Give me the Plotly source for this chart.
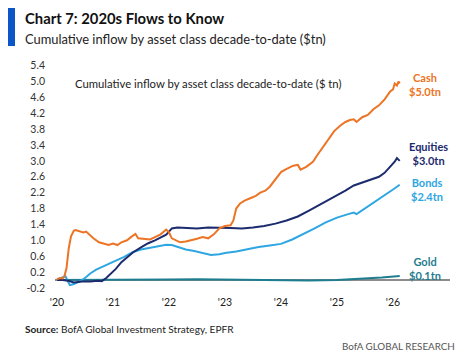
import plotly.graph_objects as go

# ---------------- data ----------------
cash_t = [2020.00, 2020.05, 2020.10, 2020.13, 2020.17, 2020.21, 2020.25, 2020.30, 2020.33, 2020.40,
          2020.47, 2020.52, 2020.58, 2020.65, 2020.75, 2020.85, 2020.92, 2021.00, 2021.08, 2021.15,
          2021.25, 2021.32, 2021.40, 2021.45, 2021.55, 2021.66, 2021.75, 2021.85, 2021.95, 2022.00,
          2022.05, 2022.12, 2022.20, 2022.30, 2022.40, 2022.50, 2022.60, 2022.70, 2022.80, 2022.90,
          2023.00, 2023.10, 2023.15, 2023.20, 2023.27, 2023.35, 2023.45, 2023.55, 2023.63, 2023.72,
          2023.80, 2023.90, 2024.00, 2024.10, 2024.22, 2024.30, 2024.35, 2024.45, 2024.57, 2024.65,
          2024.75, 2024.85, 2024.95, 2025.05, 2025.15, 2025.23, 2025.30, 2025.35, 2025.45, 2025.55,
          2025.65, 2025.75, 2025.85, 2025.95, 2026.00, 2026.03, 2026.07, 2026.10, 2026.12]
cash_v = [0.02, 0.05, 0.04, 0.08, 0.30, 0.80, 1.10, 1.24, 1.26, 1.22,
          1.20, 1.22, 1.14, 1.05, 0.95, 0.92, 0.88, 0.92, 0.88, 0.95,
          1.00, 1.08, 1.16, 1.05, 1.03, 1.02, 1.08, 1.15, 1.27, 1.20,
          1.05, 1.00, 0.95, 0.97, 1.00, 1.04, 1.08, 1.05, 1.15, 1.30,
          1.36, 1.38, 1.50, 1.80, 1.93, 2.00, 2.06, 2.12, 2.20, 2.25,
          2.35, 2.55, 2.72, 2.80, 2.88, 2.90, 2.78, 2.85, 2.98, 3.15,
          3.36, 3.55, 3.75, 3.88, 3.98, 4.03, 4.05, 3.98, 4.10, 4.16,
          4.30, 4.40, 4.55, 4.75, 4.80, 4.95, 4.90, 5.00, 4.95]

eq_t = [2020.00, 2020.10, 2020.20, 2020.30, 2020.45, 2020.60, 2020.72, 2020.80, 2020.88, 2020.95,
        2021.05, 2021.15, 2021.25, 2021.36, 2021.50, 2021.62, 2021.75, 2021.85, 2021.95, 2022.00,
        2022.05, 2022.15, 2022.30, 2022.50, 2022.70, 2022.90, 2023.10, 2023.30, 2023.50, 2023.70,
        2023.90, 2024.10, 2024.30, 2024.50, 2024.70, 2024.85, 2025.00, 2025.15, 2025.30, 2025.45,
        2025.60, 2025.75, 2025.85, 2025.95, 2026.03, 2026.07, 2026.12]
eq_v = [0.00, 0.00, -0.02, -0.06, -0.04, -0.04, -0.02, -0.03, 0.05, 0.15,
        0.28, 0.45, 0.58, 0.70, 0.82, 0.92, 1.00, 1.07, 1.14, 1.22,
        1.30, 1.32, 1.31, 1.30, 1.32, 1.32, 1.31, 1.30, 1.32, 1.36,
        1.42, 1.50, 1.60, 1.75, 1.90, 2.02, 2.12, 2.25, 2.38, 2.46,
        2.52, 2.60, 2.70, 2.85, 2.98, 3.07, 3.00]

bond_t = [2020.00, 2020.08, 2020.15, 2020.20, 2020.23, 2020.30, 2020.40, 2020.50, 2020.60, 2020.70,
          2020.80, 2020.90, 2021.00, 2021.10, 2021.20, 2021.35, 2021.50, 2021.65, 2021.80, 2021.95,
          2022.05, 2022.15, 2022.30, 2022.45, 2022.60, 2022.75, 2022.90, 2023.00, 2023.20, 2023.40,
          2023.60, 2023.80, 2024.00, 2024.20, 2024.40, 2024.60, 2024.80, 2025.00, 2025.20, 2025.30,
          2025.35, 2025.50, 2025.70, 2025.85, 2026.00, 2026.12]
bond_v = [0.00, 0.05, 0.10, -0.05, -0.13, -0.10, -0.04, 0.05, 0.17, 0.26,
          0.33, 0.38, 0.45, 0.52, 0.58, 0.70, 0.77, 0.81, 0.85, 0.89,
          0.88, 0.83, 0.77, 0.73, 0.68, 0.63, 0.65, 0.68, 0.72, 0.78,
          0.83, 0.87, 0.91, 1.02, 1.15, 1.30, 1.45, 1.57, 1.66, 1.70,
          1.66, 1.80, 1.98, 2.12, 2.28, 2.40]

gold_t = [2020.0, 2021.0, 2022.0, 2022.5, 2023.0, 2023.5, 2024.0, 2024.5, 2025.0, 2025.5, 2025.8, 2026.12]
gold_v = [0.00, 0.00, 0.01, 0.02, 0.01, 0.00, -0.01, -0.01, 0.00, 0.03, 0.06, 0.10]

year_ticks = [2020, 2021, 2022, 2023, 2024, 2025, 2026]
year_labels = ["'20", "'21", "'22", "'23", "'24", "'25", "'26"]
y_ticks = [-0.2, 0.2, 0.6, 1.0, 1.4, 1.8, 2.2, 2.6, 3.0, 3.4, 3.8, 4.2, 4.6, 5.0, 5.4]

# ---------------- figure ----------------
FONT = "Lato"
C_CASH = "#EC7424"
C_EQ = "#1C2B6E"
C_BOND = "#2EA6E2"
C_GOLD = "#1F7D90"

fig = go.Figure()
for t, v, c in [(gold_t, gold_v, C_GOLD), (bond_t, bond_v, C_BOND),
                (eq_t, eq_v, C_EQ), (cash_t, cash_v, C_CASH)]:
    fig.add_trace(go.Scatter(x=t, y=v, mode="lines", line=dict(color=c, width=2),
                             showlegend=False, hoverinfo="skip"))

OFF = 8                      # page body margin of the html page
FW, FH = 466 - OFF, 360 - OFF
L, T, W, H = 55, 60, 395, 230   # plot area in window pixels


def px(x):
    return (x - L) / W


def py(y):
    return (T + H - y) / H


ann = []
ann.append(dict(text="<b>Chart 7: 2020s Flows to Know</b>", x=px(23), y=py(18),
                font=dict(size=14.8, color="#111111", family=FONT)))
ann.append(dict(text="Cumulative inflow by asset class decade-to-date ($tn)", x=px(23), y=py(39),
                font=dict(size=12.9, color="#222222", family=FONT)))
ann.append(dict(text="Cumulative inflow by asset class decade-to-date ($ tn)", x=px(73), y=py(84),
                font=dict(size=11.3, color="#222222", family=FONT)))
ann.append(dict(text="<b>Source:</b> BofA Global Investment Strategy, EPFR", x=px(23), y=py(329),
                font=dict(size=10.1, color="#222222", family=FONT)))
ann.append(dict(text="BofA GLOBAL RESEARCH", x=px(457), y=py(346), xanchor="right",
                font=dict(size=9.8, color="#555555", family=FONT)))
for txt, cx, cy, col in [("Cash<br>$5.0tn", 425, 84.5, C_CASH),
                         ("Equities<br>$3.0tn", 428, 153.5, C_EQ),
                         ("Bonds<br>$2.4tn", 427, 189.5, C_BOND),
                         ("Gold<br>$0.1tn", 425, 268.5, C_GOLD)]:
    ann.append(dict(text="<b>" + txt + "</b>", x=px(cx), y=py(cy), xanchor="center",
                    align="center", font=dict(size=11, color=col, family=FONT)))
for a in ann:
    a.setdefault("xanchor", "left")
    a.update(xref="paper", yref="paper", yanchor="middle", showarrow=False)

fig.update_layout(
    width=FW, height=FH,
    margin=dict(l=L - OFF, r=FW - (L - OFF) - W, t=T - OFF, b=FH - (T - OFF) - H, autoexpand=False),
    paper_bgcolor="white", plot_bgcolor="white",
    font=dict(family=FONT, color="#333333"),
    annotations=ann,
    shapes=[dict(type="rect", xref="paper", yref="paper",
                 x0=px(7), x1=px(15), y0=py(46), y1=py(6),
                 fillcolor="#0A55C8", line=dict(width=0))],
    xaxis=dict(range=[2020 + (L - 57) / 56, 2020 + (L + W - 57) / 56],
               tickvals=year_ticks, ticktext=year_labels, showgrid=False,
               zeroline=False, showline=False, ticks="", automargin=False,
               tickfont=dict(size=10.5, color="#222222", family=FONT), ticklabelstandoff=4),
    yaxis=dict(range=[-10 / 39.7, 220 / 39.7], tickvals=y_ticks,
               ticktext=[f"{v:.1f}" for v in y_ticks], showgrid=False,
               zeroline=True, zerolinecolor="#8C8C8C", zerolinewidth=1.5,
               showline=False, ticks="", ticklabelstandoff=9, automargin=False,
               tickfont=dict(size=10.5, color="#333333", family=FONT)),
)

fig.write_html("out.html")
